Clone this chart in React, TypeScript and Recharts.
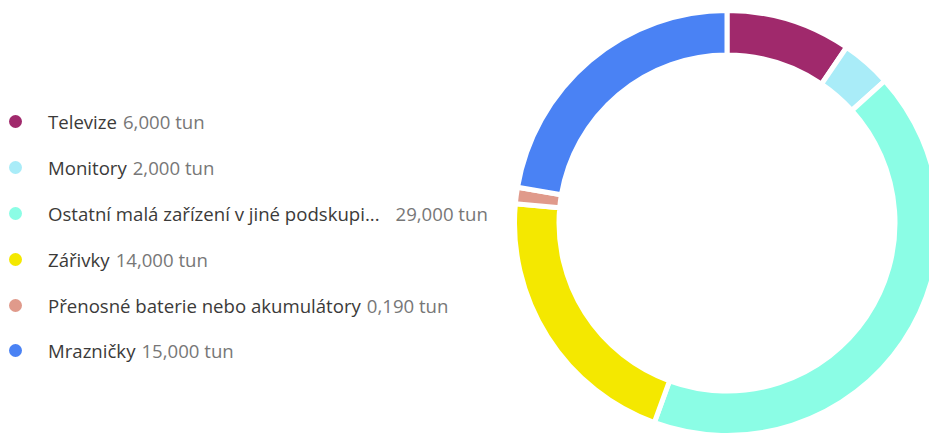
import React from 'react'
import { Cell, Pie, PieChart } from 'recharts'

const categories = [
  'Televize',
  'Monitory',
  'Ostatní malá zařízení v jiné podskupi...',
  'Zářivky',
  'Přenosné baterie nebo akumulátory',
  'Mrazničky',
]
const tons = [6, 2, 29, 14, 0.19, 15]
const valueLabels = ['6,000 tun', '2,000 tun', '29,000 tun', '14,000 tun', '0,190 tun', '15,000 tun']
const colors = ['#A0296C', '#A9ECF8', '#8BFDE5', '#F4E800', '#E09A8B', '#4A82F4']

const data = categories.map((name, i) => ({ name, value: tons[i], label: valueLabels[i] }))

function LegendList() {
  return (
    <div style={{ position: 'absolute', left: 0, top: 99 }}>
      {data.map((item, i) => (
        <div key={item.name} style={{ display: 'flex', alignItems: 'center', height: 45.8, whiteSpace: 'nowrap' }}>
          <span
            style={{ width: 13, height: 13, borderRadius: '50%', background: colors[i], marginLeft: 9, marginRight: 26, flexShrink: 0 }}
          />
          <span style={{ color: '#3b3a39' }}>{item.name}</span>
          <span style={{ color: '#777', marginLeft: i === 2 ? 16 : 6 }}>{item.label}</span>
        </div>
      ))}
    </div>
  )
}

export default function App() {
  return (
    <div style={{ position: 'fixed', left: 0, top: 0, width: 929, height: 436, background: '#fff', fontFamily: '"Open Sans", sans-serif', fontSize: 18.6 }}>
      <PieChart width={929} height={436} margin={{ top: 0, right: 0, bottom: 0, left: 0 }}>
        <Pie
          data={data}
          dataKey="value"
          nameKey="name"
          cx={727}
          cy={223}
          innerRadius={168}
          outerRadius={212.5}
          startAngle={90}
          endAngle={-270}
          minAngle={3.5}
          stroke="#fff"
          strokeWidth={5}
          isAnimationActive={false}
        >
          {data.map((item, i) => (
            <Cell key={item.name} fill={colors[i]} />
          ))}
        </Pie>
      </PieChart>
      <LegendList />
    </div>
  )
}
